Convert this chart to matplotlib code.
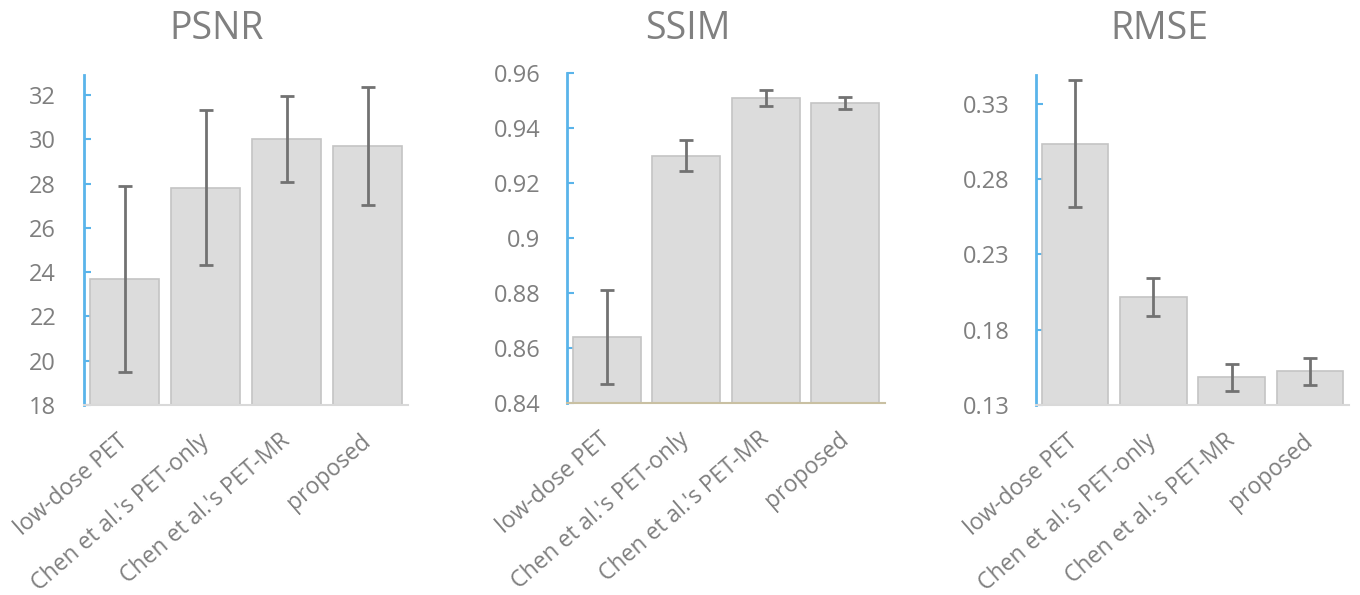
import matplotlib
matplotlib.use("Agg")
import matplotlib.pyplot as plt
import numpy as np

plt.rcParams['font.family'] = ['Open Sans', 'DejaVu Sans']

categories = ["low-dose PET", "Chen et al.'s PET-only", "Chen et al.'s PET-MR", "proposed"]

psnr_mean = [23.7, 27.8, 30.0, 29.7]
psnr_err = [4.2, 3.5, 1.95, 2.65]
psnr_ticks = [18, 20, 22, 24, 26, 28, 30, 32]

ssim_mean = [0.864, 0.930, 0.951, 0.949]
ssim_err = [0.017, 0.0058, 0.003, 0.0022]
ssim_ticks = [0.84, 0.86, 0.88, 0.90, 0.92, 0.94, 0.96]
ssim_ticklabels = ["0.84", "0.86", "0.88", "0.9", "0.92", "0.94", "0.96"]

rmse_mean = [0.3035, 0.2017, 0.1483, 0.1523]
rmse_err = [0.042, 0.0125, 0.009, 0.009]
rmse_ticks = [0.13, 0.18, 0.23, 0.28, 0.33]

fig = plt.figure(figsize=(13.6, 5.95), dpi=100)

W, H = 1360, 595
def ax_rect(left, right, top, bottom):
    return [left / W, 1 - bottom / H, (right - left) / W, (bottom - top) / H]

panels = [
    dict(rect=ax_rect(84, 408, 75, 405), mean=psnr_mean, err=psnr_err,
         ylim=(18, 32.9), ticks=psnr_ticks, labels=[str(t) for t in psnr_ticks],
         title="PSNR", tx=217, bottom_color="#d9d9d9", pad=20),
    dict(rect=ax_rect(567, 885, 73, 403), mean=ssim_mean, err=ssim_err,
         ylim=(0.84, 0.96), ticks=ssim_ticks, labels=ssim_ticklabels,
         title="SSIM", tx=688, bottom_color="#c9c0a2", pad=19),
    dict(rect=ax_rect(1036, 1349, 75, 405), mean=rmse_mean, err=rmse_err,
         ylim=(0.13, 0.349), ticks=rmse_ticks, labels=["%.2f" % t for t in rmse_ticks],
         title="RMSE", tx=1159, bottom_color="#d9d9d9", pad=19),
]

text_color = "#7f7f7f"
for p in panels:
    ax = fig.add_axes(p["rect"])
    x = np.arange(len(categories))
    ax.bar(x, p["mean"], width=0.85, bottom=0, color="#dcdcdc", edgecolor="#c4c4c4",
           linewidth=1.2, zorder=2)
    ax.errorbar(x, p["mean"], yerr=p["err"], fmt="none", ecolor="#727272",
                elinewidth=2.0, capsize=5, capthick=2.0, zorder=3)
    ax.set_xlim(-0.5, 3.5)
    ax.set_ylim(*p["ylim"])
    ax.set_yticks(p["ticks"])
    ax.set_yticklabels(p["labels"])
    ax.set_xticks(x)
    ax.set_xticklabels(categories, rotation=41, ha="right", va="center",
                       rotation_mode="anchor")
    for s in ["top", "right"]:
        ax.spines[s].set_visible(False)
    ax.spines["left"].set_color("#5ab4ea")
    ax.spines["left"].set_linewidth(2)
    ax.spines["bottom"].set_color(p["bottom_color"])
    ax.spines["bottom"].set_linewidth(1.5)
    ax.tick_params(axis="y", direction="in", length=5, width=1.5, color="#5ab4ea",
                   labelsize=17, labelcolor=text_color, pad=p["pad"])
    ax.tick_params(axis="x", length=0, labelsize=16.5, labelcolor=text_color, pad=24)
    fig.text(p["tx"] / W, 1 - 29 / H, p["title"], ha="center", va="center",
             fontsize=27, color="#808080")

fig.savefig("out.png", dpi=100)
